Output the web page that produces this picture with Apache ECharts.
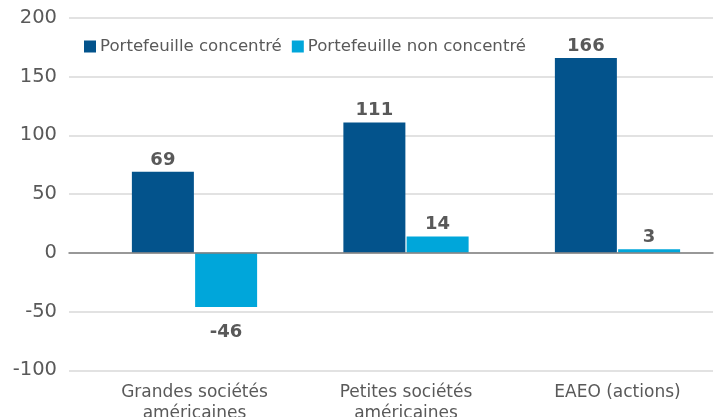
<!DOCTYPE html>
<html>
<head>
<meta charset="utf-8">
<script src="https://cdn.jsdelivr.net/npm/echarts@6/dist/echarts.min.js"></script>
<style>html,body{margin:0;padding:0;background:#fff}#c{width:718px;height:417px}</style>
</head>
<body>
<div id="c"></div>
<script>
var categories = ['Grandes sociétés\naméricaines', 'Petites sociétés\naméricaines', 'EAEO (actions)'];
var seriesNames = ['Portefeuille concentré', 'Portefeuille non concentré'];
var concentre = [69, 111, 166];
var nonConcentre = [-46, 14, 3];
var yTicks = { min: -100, max: 200, interval: 50 };

var FONT = 'DejaVu Sans';
var GRAY = '#595959';
var colors = ['#03538C', '#00A6DA'];

function items(arr) {
  return arr.map(function (v) {
    return {
      value: v,
      label: v < 0 ? { position: 'bottom', distance: 16 } : { position: 'top', distance: 3 }
    };
  });
}

var chart = echarts.init(document.getElementById('c'), null, { renderer: 'canvas' });
chart.setOption({
  animation: false,
  backgroundColor: '#fff',
  color: colors,
  legend: {
    left: 79, top: 33,
    itemWidth: 12, itemHeight: 12, itemGap: 10,
    icon: 'rect',
    textStyle: { fontFamily: FONT, fontSize: 16.6, color: GRAY, padding: [0, 0, 0, -1] },
    data: seriesNames
  },
  grid: [
    { left: 69, right: 5, top: 18, height: 352.3, outerBoundsMode: 'none' },
    { left: 88.75, width: 634.5, top: 18, height: 352.3, outerBoundsMode: 'none' }
  ],
  xAxis: [
    { type: 'category', gridIndex: 0, data: categories,
      axisLine: { show: true, onZero: true, lineStyle: { color: '#808080', width: 1.5 } },
      axisTick: { show: false }, axisLabel: { show: false }, z: 5 },
    { type: 'category', gridIndex: 1, data: categories,
      axisLine: { show: false }, axisTick: { show: false },
      axisLabel: { fontFamily: FONT, fontSize: 17, color: GRAY, lineHeight: 21, margin: 12 } }
  ],
  yAxis: [
    { type: 'value', gridIndex: 0, min: yTicks.min, max: yTicks.max, interval: yTicks.interval,
      axisLine: { show: false }, axisTick: { show: false },
      splitLine: { lineStyle: { color: '#D9D9D9', width: 1.5 } },
      axisLabel: { fontFamily: FONT, fontSize: 19.5, color: GRAY, margin: 12 } },
    { type: 'value', gridIndex: 1, min: yTicks.min, max: yTicks.max, interval: yTicks.interval,
      show: false, splitLine: { show: false } }
  ],
  series: [
    { name: seriesNames[0], type: 'bar', xAxisIndex: 1, yAxisIndex: 1,
      barWidth: 62, barGap: '2%', data: items(concentre),
      label: { show: true, fontFamily: FONT, fontWeight: 'bold', fontSize: 18, color: GRAY } },
    { name: seriesNames[1], type: 'bar', xAxisIndex: 1, yAxisIndex: 1,
      barWidth: 62, barGap: '2%', data: items(nonConcentre),
      label: { show: true, fontFamily: FONT, fontWeight: 'bold', fontSize: 18, color: GRAY } }
  ]
});
</script>
</body>
</html>
